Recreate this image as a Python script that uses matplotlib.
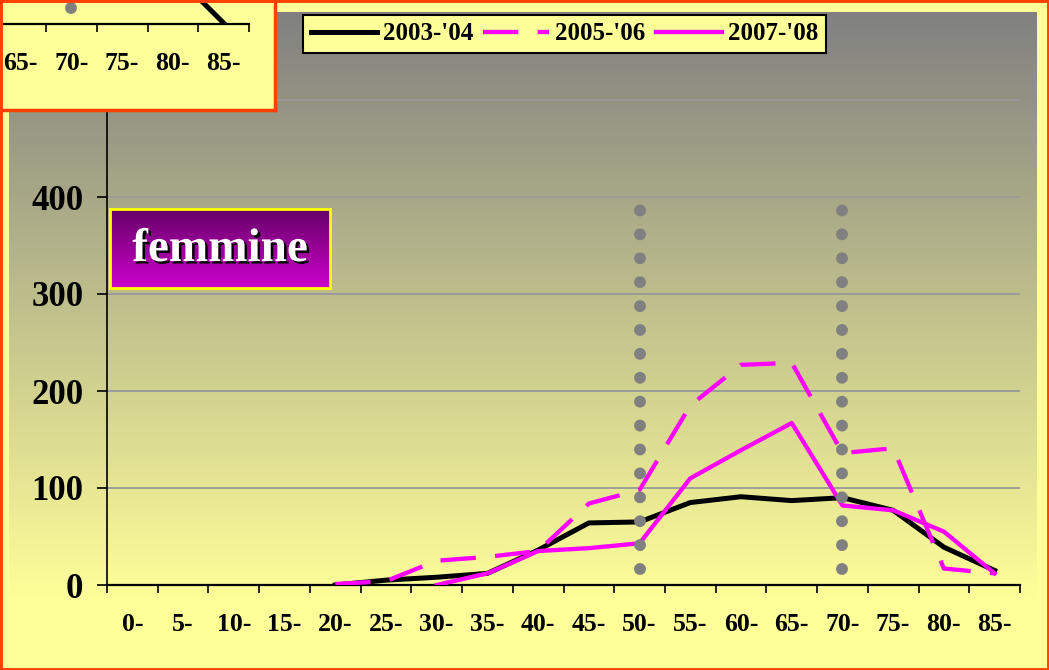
import numpy as np
import matplotlib
matplotlib.use("Agg")
import matplotlib.pyplot as plt
import matplotlib.patheffects as pe
from matplotlib.colors import LinearSegmentedColormap
from matplotlib.patches import Rectangle

# classi di eta' (asse x)
classi = ['0-', '5-', '10-', '15-', '20-', '25-', '30-', '35-', '40-', '45-',
          '50-', '55-', '60-', '65-', '70-', '75-', '80-', '85-']
nan = np.nan

# femmine - valori
f_2003_04 = [nan, nan, nan, nan, 0, 5, 8, 12, 36, 64, 65, 85, 91, 87, 90, 77, 39, 15]
f_2005_06 = [nan, nan, nan, nan, 1, 4, 25, 29, 35, 84, 98, 185, 227, 229, 136, 141, 17, 12]
f_2007_08 = [nan, nan, nan, nan, nan, nan, 0, 12, 35, 38, 43, 110, 139, 167, 82, 77, 55, 12]

# pezzo visibile del grafico dei maschi (in alto a sinistra)
m_classi = ['80-', '85-']
m_2003_04 = [53, 1]

# linee verticali a punti
classi_rif = ['50-', '70-']
rif_min, rif_max = 16.5, 389

serie = ["2003-'04", "2005-'06", "2007-'08"]
yticks = [0, 100, 200, 300, 400, 500]

W, H = 1049, 670
plt.rcParams['font.family'] = ['Liberation Serif', 'DejaVu Serif']
plt.rcParams['font.weight'] = 'bold'

fig = plt.figure(figsize=(W / 100, H / 100), dpi=100, facecolor='#FFFF99')

def fax(x0, y0, x1, y1):
    # rettangolo in pixel (origine in alto a sinistra) -> coordinate figura
    return [x0 / W, 1 - y1 / H, (x1 - x0) / W, (y1 - y0) / H]

# sfondo sfumato grigio -> giallo
bg = fig.add_axes(fax(9, 12, 1037, 600))
cm_bg = LinearSegmentedColormap.from_list('bg', ['#808080', '#FFFF99'])
bg.imshow(np.linspace(0, 1, 256).reshape(-1, 1), cmap=cm_bg, aspect='auto')
bg.axis('off')

# grafico principale
px_cat = (1020 - 107) / 18
ax = fig.add_axes(fax(107, 12, 1020, 585))
ax.set_facecolor('none')
x = np.arange(len(classi))

ax.plot(x, f_2003_04, color='black', lw=3.6, label=serie[0], zorder=3)
ax.plot(x, f_2005_06, color='#FF00FF', lw=3.1, ls=(0, (8.2, 4.5)), label=serie[1], zorder=4)
ax.plot(x, f_2007_08, color='#FF00FF', lw=3.1, label=serie[2], zorder=5)

def linee_punti(a):
    for c in classi_rif:
        i = classi.index(c)
        l, = a.plot([i, i], [rif_min, rif_max], color='#808080', lw=8.6,
                    ls=(0, (0.001, 2.0)), zorder=6)
        l.set_dash_capstyle('round')

def asse_x(a):
    a.set_xticks(x)
    a.set_xticklabels(classi)
    a.set_xticks(np.arange(-0.5, len(classi)), minor=True)
    a.tick_params(axis='x', which='major', length=0, pad=20, labelsize=18.5)
    a.tick_params(axis='x', which='minor', length=6, width=1.2, direction='out')

linee_punti(ax)
asse_x(ax)
ax.set_xlim(-0.5, len(classi) - 0.5)
ax.set_yticks(yticks)
ax.set_yticklabels([str(v) for v in yticks])
ax.set_ylim(0, 573 / 0.97)
ax.tick_params(axis='y', length=7, width=1.2, pad=10, labelsize=25)
for v in yticks[1:]:
    ax.axhline(v, color='#999999', lw=1.3, zorder=1)
for s in ['top', 'right']:
    ax.spines[s].set_visible(False)
ax.spines['left'].set_linewidth(1.2)
ax.spines['bottom'].set_linewidth(1.6)

leg = ax.legend(loc='upper left', bbox_to_anchor=(303 / W, 1 - 15 / H),
                bbox_transform=fig.transFigure, ncol=3, fontsize=18,
                frameon=True, fancybox=False, edgecolor='black',
                facecolor='#FFFF99', framealpha=1, borderaxespad=0,
                borderpad=0.3, handlelength=2.64, handletextpad=0.25,
                columnspacing=0.4)
leg.get_frame().set_linewidth(1.5)

# etichetta "femmine"
fb = fig.add_axes(fax(110, 209, 330, 288))
cm_f = LinearSegmentedColormap.from_list('f', ['#660066', '#CC00CC'])
fb.imshow(np.linspace(0, 1, 256).reshape(-1, 1), cmap=cm_f, aspect='auto',
          extent=[0, 1, 0, 1])
fb.set_xticks([])
fb.set_yticks([])
for s in fb.spines.values():
    s.set_color('#FFFF00')
    s.set_linewidth(2)
fb.text(0.5, 0.48, 'femmine', color='white', fontsize=34, ha='center', va='center',
        transform=fb.transAxes,
        path_effects=[pe.withSimplePatchShadow(offset=(1.8, -1.8),
                                               shadow_rgbFace='black', alpha=1)])

# riquadro del grafico maschi sovrapposto
box = fig.add_axes(fax(0, 0, 275, 110))
box.set_facecolor('#FFFF99')
box.set_xticks([])
box.set_yticks([])
for s in box.spines.values():
    s.set_color('#FF4000')
    s.set_linewidth(2.5)

ins = fig.add_axes(fax(0, 0, 249, 24))
ins.set_facecolor('none')
ins.plot([classi.index(c) for c in m_classi], m_2003_04, color='black', lw=3.6)
linee_punti(ins)
asse_x(ins)
ins.set_xlim(len(classi) - 0.5 - 249 / px_cat, len(classi) - 0.5)
ins.set_yticks([])
ins.set_ylim(0, 24 / 0.97)
for s in ['top', 'right', 'left']:
    ins.spines[s].set_visible(False)
ins.spines['bottom'].set_linewidth(1.6)

fig.patches.append(Rectangle((0, 0), 1, 1, transform=fig.transFigure, fill=False,
                             edgecolor='#FF4000', lw=3.5, zorder=10))

fig.savefig('out.png', dpi=100, facecolor=fig.get_facecolor())
